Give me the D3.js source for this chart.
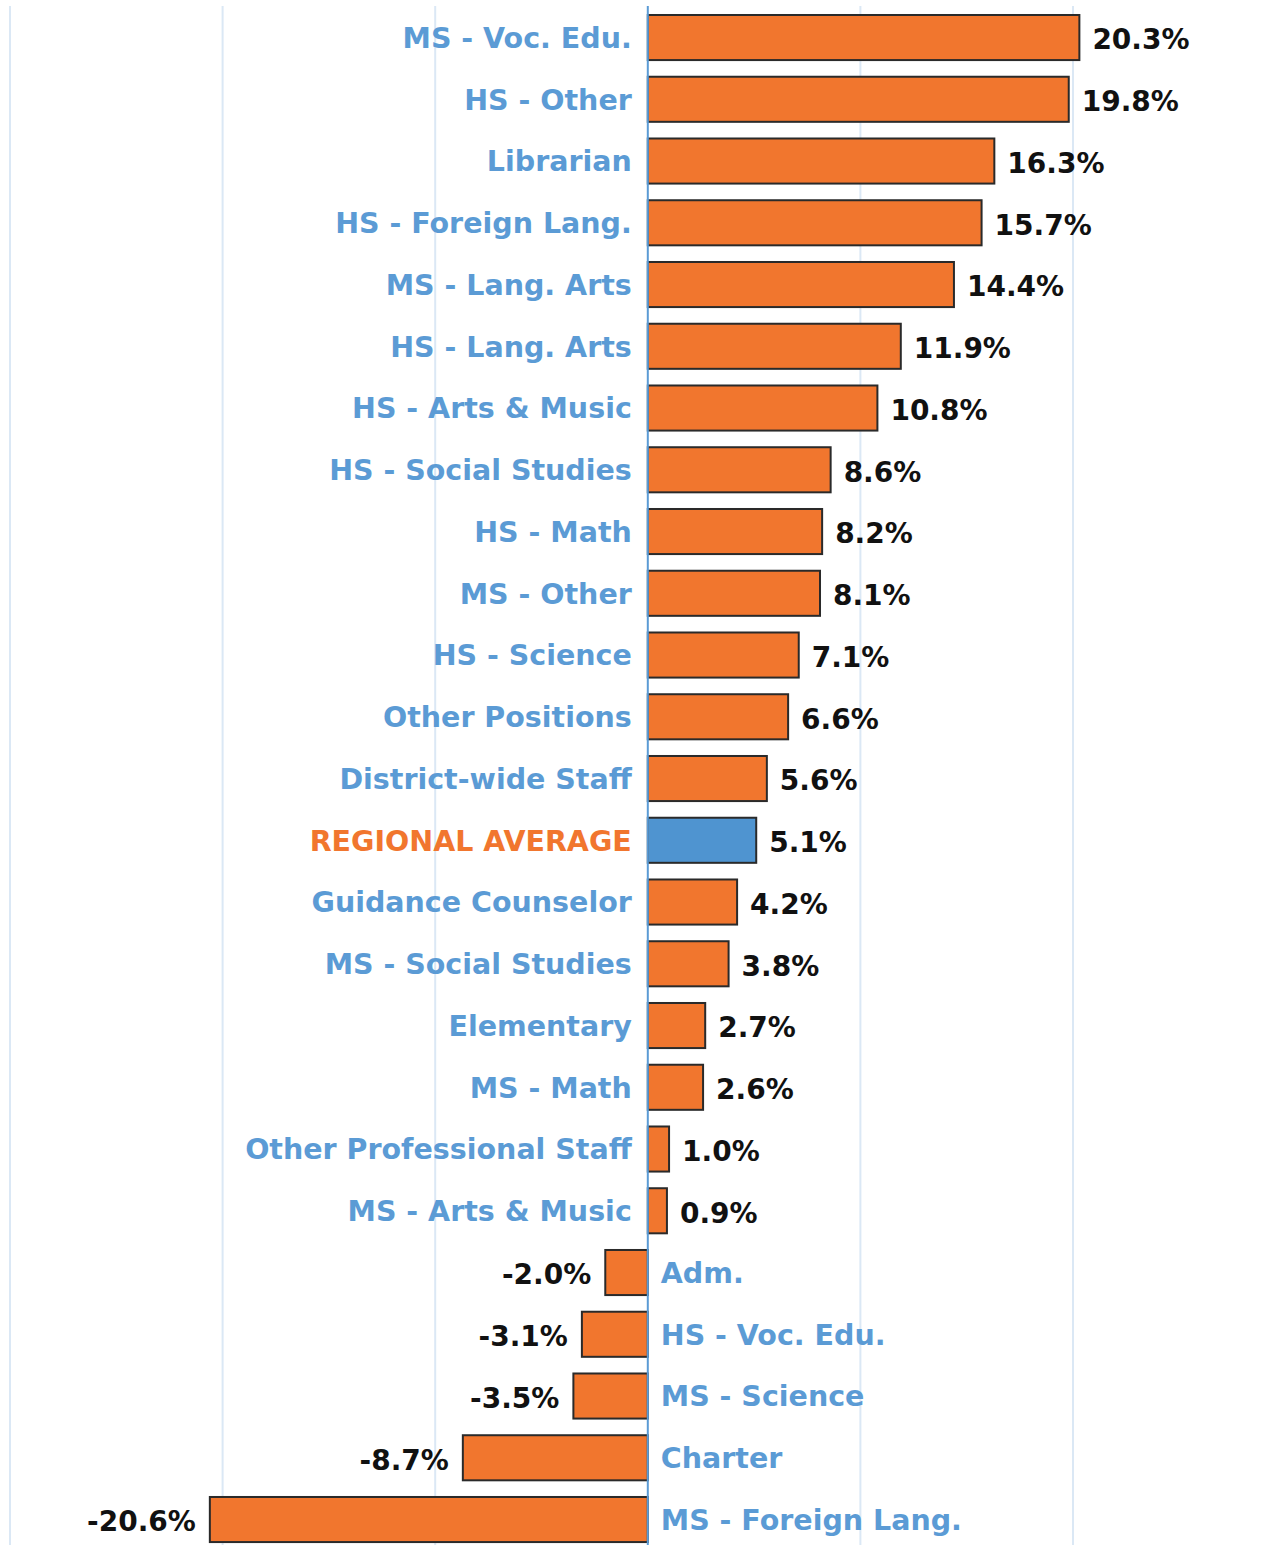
<!DOCTYPE html>
<html>
<head>
<meta charset="utf-8">
<script src="https://cdn.jsdelivr.net/npm/d3@7"></script>
<style>
  body { margin: 0; background: #fff; }
  svg text { font-family: "DejaVu Sans", sans-serif; font-weight: 700; }
</style>
</head>
<body>
<div id="chart"></div>
<script>
// categories, top to bottom
const categories = [
  'MS - Voc. Edu.', 'HS - Other', 'Librarian', 'HS - Foreign Lang.', 'MS - Lang. Arts',
  'HS - Lang. Arts', 'HS - Arts & Music', 'HS - Social Studies', 'HS - Math', 'MS - Other',
  'HS - Science', 'Other Positions', 'District-wide Staff', 'REGIONAL AVERAGE', 'Guidance Counselor',
  'MS - Social Studies', 'Elementary', 'MS - Math', 'Other Professional Staff', 'MS - Arts & Music',
  'Adm.', 'HS - Voc. Edu.', 'MS - Science', 'Charter', 'MS - Foreign Lang.'
];
// percent change
const values = [
  20.3, 19.8, 16.3, 15.7, 14.4,
  11.9, 10.8, 8.6, 8.2, 8.1,
  7.1, 6.6, 5.6, 5.1, 4.2,
  3.8, 2.7, 2.6, 1.0, 0.9,
  -2.0, -3.1, -3.5, -8.7, -20.6
];
const gridTicks = [-30, -20, -10, 0, 10, 20];
const highlight = 'REGIONAL AVERAGE';

const width = 1283, height = 1545;
const data = categories.map((c, i) => ({ name: c, value: values[i] }));

let svg = d3.select('#chart').append('svg')
    .attr('width', width)
    .attr('height', height);

//比例尺
let x = d3.scaleLinear().domain([-30, 20]).range([10, 1073]);
let y = d3.scaleBand().domain(categories)
    .range([6.66, 1550.4])
    .paddingInner(0.27)
    .paddingOuter(0.135);

//网格线
svg.append('g').selectAll('line')
    .data(gridTicks.filter(d => d !== 0))
    .enter().append('line')
    .attr('x1', d => x(d)).attr('x2', d => x(d))
    .attr('y1', 6).attr('y2', height)
    .attr('stroke', '#dbe8f5')
    .attr('stroke-width', 2);

//柱子
svg.append('g').selectAll('rect')
    .data(data)
    .enter().append('rect')
    .attr('x', d => x(Math.min(0, d.value)))
    .attr('y', d => y(d.name))
    .attr('width', d => Math.abs(x(d.value) - x(0)))
    .attr('height', y.bandwidth())
    .attr('fill', d => d.name === highlight ? '#4f94d0' : '#f1762e')
    .attr('stroke', '#2a2a2a')
    .attr('stroke-width', 2);

//零线
svg.append('line')
    .attr('x1', x(0)).attr('x2', x(0))
    .attr('y1', 6).attr('y2', height)
    .attr('stroke', '#5b9bd5')
    .attr('stroke-width', 2);

//类别标签
svg.append('g').selectAll('text')
    .data(data)
    .enter().append('text')
    .attr('x', d => d.value >= 0 ? x(0) - 16 : x(0) + 13)
    .attr('y', d => y(d.name) + y.bandwidth() / 2)
    .attr('dy', '0.36em')
    .attr('text-anchor', d => d.value >= 0 ? 'end' : 'start')
    .attr('font-size', 28.5)
    .attr('fill', d => d.name === highlight ? '#f1762e' : '#5b9bd5')
    .text(d => d.name);

//数值标签
svg.append('g').selectAll('text')
    .data(data)
    .enter().append('text')
    .attr('x', d => d.value >= 0 ? x(d.value) + 13 : x(d.value) - 14)
    .attr('y', d => y(d.name) + y.bandwidth() / 2)
    .attr('dy', '0.42em')
    .attr('text-anchor', d => d.value >= 0 ? 'start' : 'end')
    .attr('font-size', 28)
    .attr('fill', '#111')
    .text(d => d.value.toFixed(1) + '%');
</script>
</body>
</html>
